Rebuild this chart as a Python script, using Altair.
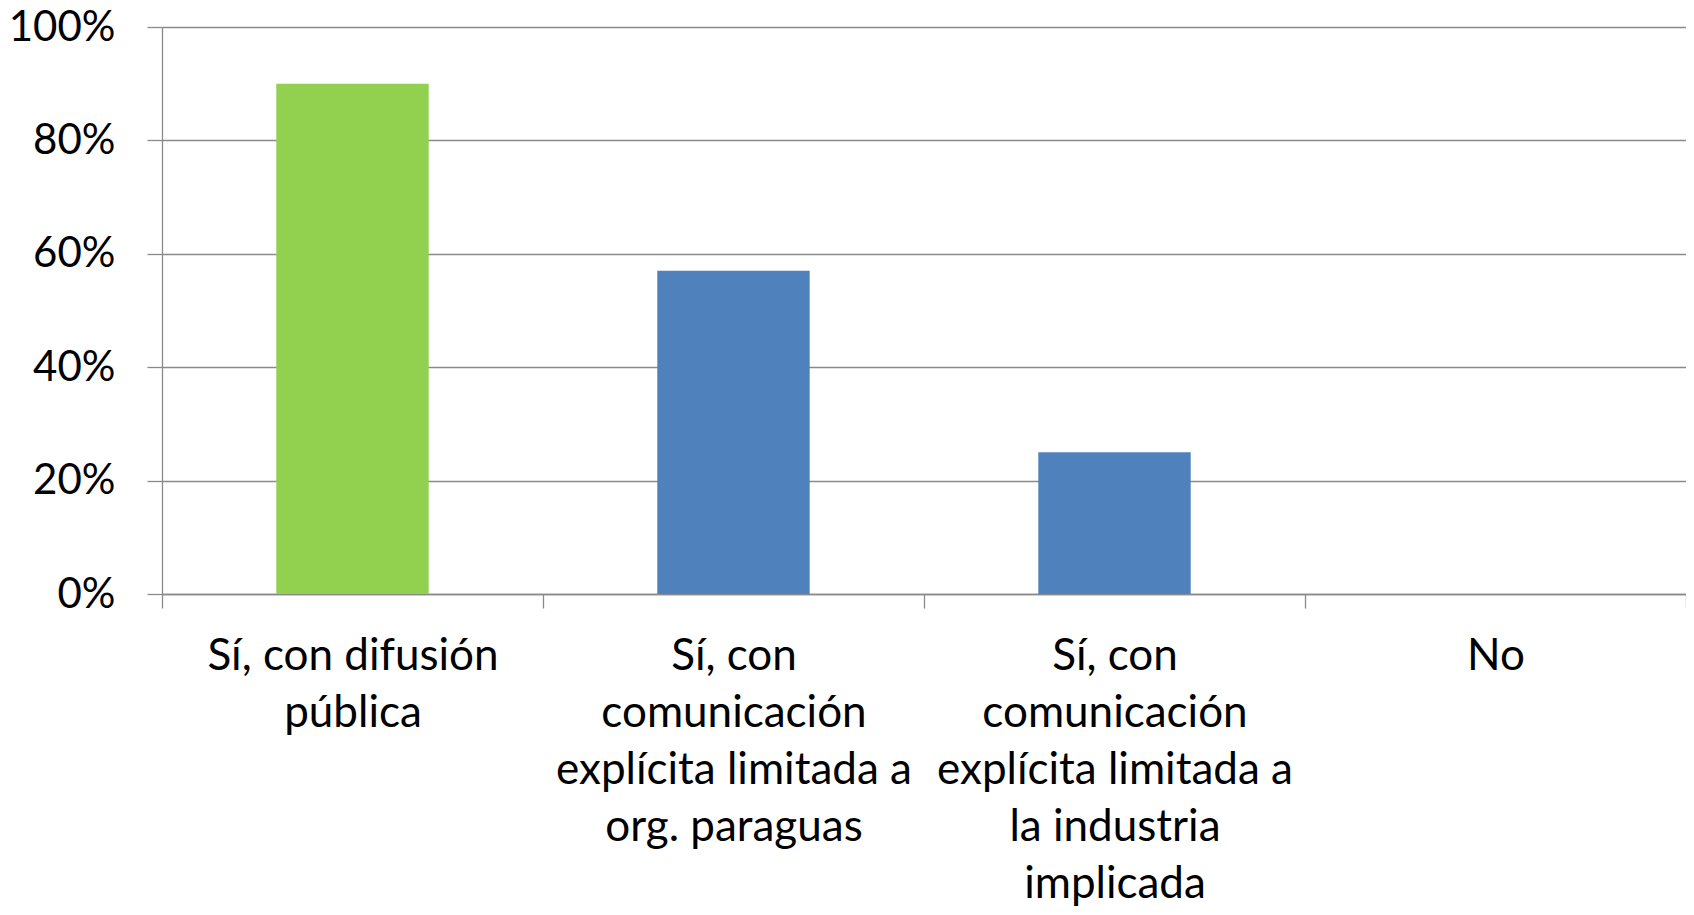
import altair as alt
import pandas as pd

categories = [
    "Sí, con difusión\npública",
    "Sí, con\ncomunicación\nexplícita limitada a\norg. paraguas",
    "Sí, con\ncomunicación\nexplícita limitada a\nla industria\nimplicada",
    "No",
]
values = [0.90, 0.57, 0.25, 0.0]
colors = ["#92D050", "#4F81BD", "#4F81BD", "#4F81BD"]
y_ticks = [0, 0.2, 0.4, 0.6, 0.8, 1.0]

df = pd.DataFrame({"cat": categories, "val": values, "color": colors})

GRAY = "#8a8a8a"
FONT = "Lato"

chart = (
    alt.Chart(df)
    .mark_bar(width=alt.RelativeBandSize(0.4))
    .encode(
        x=alt.X(
            "cat:N",
            sort=categories,
            scale=alt.Scale(paddingInner=0, paddingOuter=0),
            axis=alt.Axis(
                title=None,
                labelAngle=0,
                labelExpr="split(datum.label, '\\n')",
                labelFont=FONT,
                labelFontSize=44,
                labelColor="#000000",
                labelLineHeight=57,
                labelBaseline="top",
                labelPadding=26,
                labelLimit=0,
                tickBand="extent",
                tickSize=14,
                tickColor=GRAY,
                tickWidth=1.3,
                domainColor=GRAY,
                domainWidth=1.3,
                grid=False,
            ),
        ),
        y=alt.Y(
            "val:Q",
            scale=alt.Scale(domain=[0, 1], nice=False),
            axis=alt.Axis(
                title=None,
                values=y_ticks,
                format=".0%",
                labelFont=FONT,
                labelFontSize=42,
                labelColor="#000000",
                labelPadding=32,
                tickSize=15,
                tickColor=GRAY,
                tickWidth=1.3,
                domainColor=GRAY,
                domainWidth=1.3,
                grid=True,
                gridColor=GRAY,
                gridWidth=1.3,
            ),
        ),
        color=alt.Color("color:N", scale=None, legend=None),
    )
    .properties(
        width=1524,
        height=567,
        autosize=alt.AutoSizeParams(type="none"),
        padding={"left": 154, "top": 19, "right": 0, "bottom": 313},
    )
    .configure_view(stroke=None)
)

chart.save("out.html", embed_options={"renderer": "svg", "actions": False})
